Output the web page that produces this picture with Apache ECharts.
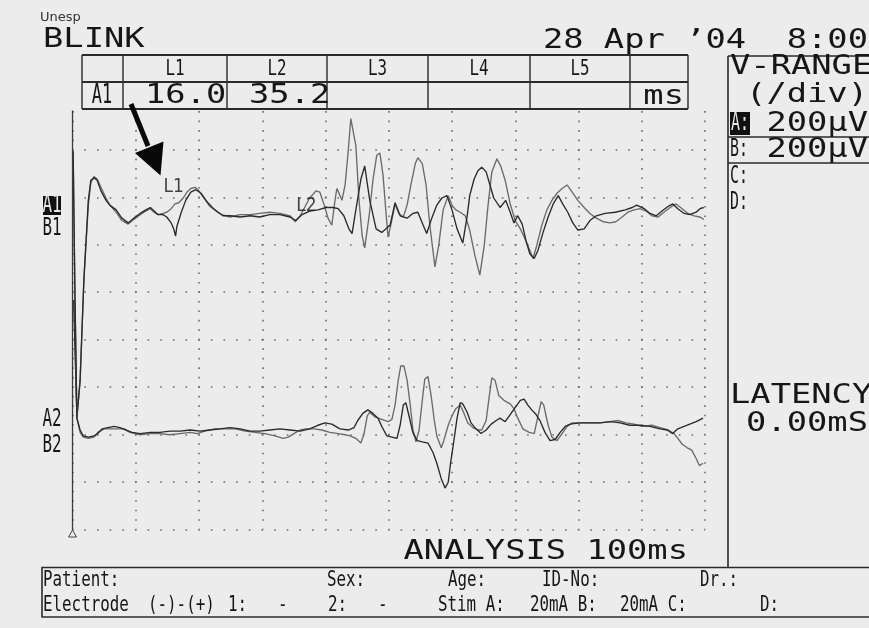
<!DOCTYPE html>
<html>
<head>
<meta charset="utf-8">
<script src="https://cdn.jsdelivr.net/npm/echarts@6/dist/echarts.min.js"></script>
<style>
  html, body { margin: 0; padding: 0; background: #ececec; }
  #chart { width: 869px; height: 628px; }
</style>
</head>
<body>
<div id="chart"></div>
<script>
// Blink reflex recording: 100 ms sweep, 200 µV/div, two stimulus runs (A, B) per side.
// Each trace is a list of [time in ms, amplitude in µV].

const traceA1 = [
  [0.2,-365],[0.7,-860],[1.2,-705],[1.8,-280],[2.5,55],[2.9,140],[3.4,150],[3.9,140],[4.5,95],[5.3,55],
  [5.9,35],[6.9,15],[7.8,-20],[8.8,-40],[9.7,-20],[10.7,0],[11.6,15],[12.3,25],[12.9,10],[13.5,-5],
  [14.3,-5],[14.9,-15],[15.6,-40],[16.0,-65],[16.3,-95],[16.5,-55],[17.2,5],[17.9,55],[18.7,90],[19.5,100],
  [20.3,85],[21.1,55],[22.1,25],[23.0,5],[23.8,-10],[24.9,-10],[26.5,-15],[28.1,-10],[29.6,-15],[31.2,-5],
  [32.8,-5],[34.4,-15],[35.3,-30],[36.3,-5],[37.5,10],[38.8,15],[40.1,25],[41.2,25],[42.0,20],[42.9,-10],
  [43.7,-65],[44.2,-85],[44.8,15],[45.6,145],[46.2,200],[47.0,55],[48.0,-65],[48.9,-80],[50.2,-50],[51.0,45],
  [51.8,-10],[52.9,-20],[53.8,0],[54.6,5],[55.3,-40],[56.0,-85],[56.8,-20],[57.6,35],[58.4,65],[59.2,75],
  [60.0,15],[60.8,-65],[61.7,-125],[62.4,-10],[62.8,75],[63.5,145],[64.1,180],[64.7,195],[65.4,175],[66.0,120],
  [66.6,65],[67.6,25],[68.5,55],[69.2,5],[69.8,-40],[70.4,-10],[71.1,-45],[71.7,-115],[72.3,-170],[73.0,-190],
  [73.6,-155],[74.4,-80],[75.2,-15],[76.0,40],[76.8,75],[77.5,40],[78.3,5],[79.1,-40],[79.9,-70],[80.9,-65],
  [81.8,-30],[82.8,-10],[84.2,0],[85.8,5],[87.4,15],[88.5,25],[89.2,35],[90.4,20],[91.3,0],[92.3,-10],
  [93.2,10],[94.2,30],[94.9,40],[95.7,20],[96.7,0],[97.6,-5],[98.6,5],[99.2,20],[99.8,25]
];

const traceB1 = [
  [0.2,-365],[0.7,-860],[1.2,-705],[1.8,-280],[2.5,35],[2.9,130],[3.4,155],[3.9,145],[4.5,110],[5.3,65],
  [5.9,35],[6.9,5],[7.8,-30],[8.8,-45],[9.7,-25],[10.7,-5],[11.6,10],[12.3,20],[12.9,5],[13.5,-5],
  [14.3,0],[14.9,5],[15.6,20],[16.2,40],[16.8,45],[17.5,65],[18.1,90],[18.7,105],[19.4,110],[20.0,95],
  [20.8,65],[21.7,30],[22.7,10],[23.6,-5],[24.9,-15],[26.5,-5],[28.1,-5],[29.6,0],[31.2,5],[32.8,0],
  [34.4,-10],[35.2,-35],[36.0,-10],[36.8,30],[37.5,65],[38.5,95],[39.1,90],[39.8,35],[40.4,-20],[41.0,-50],
  [41.5,55],[41.8,105],[42.3,75],[42.6,55],[43.1,120],[43.6,265],[44.0,400],[44.3,405],[44.8,285],[45.3,55],
  [45.8,-95],[46.2,-145],[46.9,-10],[47.5,140],[48.1,245],[48.6,255],[49.1,160],[49.6,-10],[49.9,-100],[50.4,-40],
  [51.0,40],[51.6,0],[52.3,-15],[52.9,35],[53.5,120],[54.2,210],[54.6,235],[55.3,210],[55.9,120],[56.5,-50],
  [57.3,-225],[57.9,-135],[58.6,15],[59.4,75],[60.0,35],[60.6,15],[61.3,5],[62.1,-10],[62.8,-70],[63.6,-175],
  [64.4,-260],[65.1,-135],[65.7,35],[66.3,175],[67.1,230],[67.7,200],[68.4,140],[69.2,40],[70.0,-30],[70.8,-65],
  [71.5,-105],[72.3,-155],[72.8,-190],[73.4,-135],[74.2,-50],[75.0,15],[75.8,55],[76.6,85],[77.4,105],[78.2,120],
  [79.0,90],[79.9,55],[80.9,25],[81.8,0],[82.8,-20],[83.9,-35],[85.0,-40],[85.9,-35],[86.9,-15],[87.8,5],
  [88.8,15],[89.7,20],[90.7,10],[91.6,-10],[92.6,-15],[93.5,5],[94.5,25],[95.4,40],[96.4,20],[97.3,0],
  [98.3,-10],[99.2,-15],[99.8,-25]
];

const traceA2 = [
  [0.1,1185],[0.4,555],[0.7,60],[1.2,10],[1.7,-15],[2.5,-20],[3.4,-15],[4.0,-5],[4.7,15],[5.6,20],
  [6.6,25],[7.5,20],[8.5,10],[9.4,0],[10.7,-5],[12.3,0],[13.8,0],[15.4,5],[17.0,5],[18.6,10],
  [20.2,5],[21.7,10],[23.3,15],[24.9,20],[26.5,15],[28.1,5],[29.6,5],[31.2,10],[32.8,15],[34.4,10],
  [36.0,5],[37.5,15],[38.8,30],[39.9,40],[41.0,35],[42.3,15],[43.6,10],[44.5,20],[45.1,50],[45.9,80],
  [46.7,95],[47.5,80],[48.3,60],[48.9,25],[49.7,-15],[50.5,-20],[51.3,-25],[51.8,30],[52.3,115],[52.7,125],
  [53.2,70],[53.8,0],[54.5,-35],[55.3,-40],[56.2,-45],[57.0,-85],[57.6,-130],[58.3,-195],[58.9,-235],[59.4,-210],
  [59.8,-125],[60.3,-35],[60.8,60],[61.3,125],[61.7,120],[62.4,85],[63.0,40],[63.8,15],[64.6,-5],[65.4,10],
  [66.2,35],[67.0,50],[67.6,60],[68.4,45],[69.2,75],[70.0,105],[70.8,135],[71.4,140],[72.0,115],[72.6,95],
  [73.3,75],[73.9,50],[74.7,0],[75.5,-35],[76.3,-30],[77.1,0],[77.9,25],[78.7,35],[80.2,40],[81.8,40],
  [83.4,40],[85.0,45],[86.6,40],[88.1,30],[89.7,30],[91.3,25],[92.9,15],[94.0,10],[94.9,-5],[95.7,15],
  [96.7,25],[97.6,35],[98.6,45],[99.7,60]
];

const traceB2 = [
  [0.1,1185],[0.4,555],[0.7,60],[1.2,0],[1.7,-20],[2.5,-25],[3.4,-20],[4.0,0],[5.0,15],[5.9,15],
  [7.2,15],[8.1,15],[9.1,0],[10.7,-10],[12.3,-5],[13.8,-5],[15.4,-10],[17.0,-5],[18.6,0],[19.7,-5],
  [20.9,5],[22.5,15],[24.1,15],[25.7,15],[27.3,5],[28.9,0],[30.4,-5],[32.0,-15],[33.3,-25],[34.1,-20],
  [35.0,-5],[36.0,10],[36.9,15],[38.2,15],[39.4,10],[40.7,0],[42.0,-5],[43.1,-10],[43.9,-15],[44.8,-25],
  [45.6,-45],[46.1,-5],[46.6,70],[47.0,85],[47.8,65],[48.9,55],[49.9,45],[50.5,55],[51.0,115],[51.5,220],
  [51.9,280],[52.4,280],[52.9,220],[53.4,115],[53.8,15],[54.3,-40],[54.8,10],[55.3,135],[55.7,225],[56.2,235],
  [56.7,155],[57.2,50],[57.6,-15],[58.3,-65],[58.7,-35],[59.4,30],[60.0,70],[60.6,100],[61.3,115],[61.9,80],
  [62.5,40],[63.3,20],[64.1,10],[64.7,10],[65.4,50],[65.9,155],[66.3,230],[66.8,220],[67.4,155],[68.2,135],
  [69.2,120],[69.8,100],[70.4,60],[71.2,15],[72.2,0],[73.0,-5],[73.6,70],[74.1,130],[74.5,115],[75.2,30],
  [75.8,-20],[76.6,-35],[77.4,-5],[78.2,25],[79.0,40],[80.2,40],[81.8,40],[83.4,40],[85.0,45],[86.2,50],
  [87.5,40],[88.8,35],[90.0,25],[91.6,30],[92.9,20],[94.2,10],[95.1,-5],[95.7,-25],[96.4,-50],[97.2,-65],
  [97.9,-75],[98.6,-110],[99.1,-140],[99.7,-130]
];

// Latency cursors (ms) and the result table
const latencyNames = ['L1', 'L2'];
const latencyMs = [16.0, 35.2];
const tableHeaders = ['L1', 'L2', 'L3', 'L4', 'L5'];
const tableValues = ['16.0', '35.2', '', '', ''];
const sweepMs = 100;
const msPerDiv = 10;
const uvPerDiv = 200;

const INK = '#161616';
const BG = '#ececec';
const MONO = '"DejaVu Sans Mono"';

function txt(x, y, s, size, sx, align, fill, family) {
  return {
    type: 'text', x: x, y: y, scaleX: sx, z: 120,
    style: {
      text: s, font: size + 'px ' + (family || MONO), fill: fill || INK,
      textAlign: align || 'left', textVerticalAlign: 'middle'
    }
  };
}
function wide(x, y, s, align) { return txt(x, y, s, 27, 1.25, align); }
function narrow(x, y, s, align, fill) { return txt(x, y, s, 22, 0.72, align, fill); }
function hline(x1, x2, y, w) {
  return { type: 'line', z: 115, shape: { x1: x1, y1: y, x2: x2, y2: y }, style: { stroke: '#2a2a2a', lineWidth: w || 1.6 } };
}
function vline(x, y1, y2, w) {
  return { type: 'line', z: 115, shape: { x1: x, y1: y1, x2: x, y2: y2 }, style: { stroke: '#2a2a2a', lineWidth: w || 1.6 } };
}

const graphics = [];
// strip above the traces, under the result table
graphics.push({ type: 'rect', z: 105, shape: { x: 62, y: 94, width: 664, height: 16.5 }, style: { fill: BG } });

// result table
const colEdges = [82, 123, 227, 327, 428, 530, 630, 688];
[55, 82, 109].forEach(y => graphics.push(hline(82, 688, y, 1.8)));
colEdges.forEach(x => graphics.push(vline(x, 55, 109, 1.4)));
tableHeaders.forEach((h, i) => {
  graphics.push(txt((colEdges[i + 1] + colEdges[i + 2]) / 2, 69, h, 22, 0.72, 'center'));
});
graphics.push(txt(102, 96, 'A1', 26, 0.65, 'center'));
tableValues.forEach((v, i) => {
  if (v) graphics.push(wide(colEdges[i + 1] + 22, 96, v));
});
graphics.push(wide(684, 97, 'ms', 'right'));

// header line
graphics.push(txt(40, 18, 'Unesp', 13, 1.0, 'left', '#333', '"DejaVu Sans"'));
graphics.push(wide(43, 40, 'BLINK'));
graphics.push(wide(868, 41, '28 Apr \u201904  8:00', 'right'));

// right-hand settings panel
graphics.push(vline(728, 56, 567, 1.6));
graphics.push(hline(728, 869, 56, 1.6));
graphics.push(hline(728, 869, 137, 1.4));
graphics.push(hline(728, 869, 163, 1.4));
graphics.push(wide(730, 67, 'V-RANGE'));
graphics.push(wide(868, 95, '(/div)', 'right'));
graphics.push({ type: 'rect', z: 118, shape: { x: 730, y: 112, width: 20, height: 23 }, style: { fill: '#111' } });
graphics.push(txt(740, 124, 'A:', 24, 0.62, 'center', '#e8e8e8'));
graphics.push(wide(868, 124, uvPerDiv + 'µV', 'right'));
graphics.push(txt(730, 150, 'B:', 24, 0.62));
graphics.push(wide(868, 150, uvPerDiv + 'µV', 'right'));
graphics.push(txt(730, 177, 'C:', 24, 0.62));
graphics.push(txt(730, 203, 'D:', 24, 0.62));
graphics.push(wide(730, 396, 'LATENCY'));
graphics.push(wide(868, 424, '0.00mS', 'right'));

// sweep length
graphics.push(wide(688, 552, 'ANALYSIS ' + sweepMs + 'ms', 'right'));

// channel labels
graphics.push({ type: 'rect', z: 118, shape: { x: 43, y: 196, width: 18, height: 19 }, style: { fill: '#111' } });
graphics.push(txt(52, 205.5, 'A1', 24, 0.66, 'center', '#e8e8e8'));
graphics.push(txt(52, 229, 'B1', 24, 0.66, 'center'));
graphics.push(txt(52, 420, 'A2', 24, 0.66, 'center'));
graphics.push(txt(52, 446, 'B2', 24, 0.66, 'center'));

// stimulus marker
graphics.push({ type: 'polygon', z: 118, shape: { points: [[72.5, 530], [68.5, 537], [76.5, 537]] }, style: { fill: 'none', stroke: '#444', lineWidth: 1 } });

// arrow pointing at the L1 onset
graphics.push({ type: 'line', z: 125, shape: { x1: 131, y1: 104, x2: 148, y2: 146 }, style: { stroke: '#080808', lineWidth: 5 } });
graphics.push({ type: 'polygon', z: 125, shape: { points: [[135, 153], [163.5, 141.5], [160.5, 175.5]] }, style: { fill: '#080808' } });

// patient / stimulation box
graphics.push({ type: 'rect', z: 115, shape: { x: 42, y: 567.5, width: 840, height: 49.5 }, style: { fill: 'none', stroke: '#2a2a2a', lineWidth: 1.6 } });
[['Patient:', 43], ['Sex:', 327], ['Age:', 448], ['ID-No:', 542], ['Dr.:', 700]].forEach(p => graphics.push(narrow(p[1], 580, p[0])));
[['Electrode', 43], ['(-)-(+)', 148], ['1:', 228], ['-', 278], ['2:', 328], ['-', 378],
 ['Stim A:', 438], ['20mA B:', 530], ['20mA C:', 620], ['D:', 760]].forEach(p => graphics.push(narrow(p[1], 605, p[0])));

function trace(data, yIdx, color) {
  return {
    type: 'line', xAxisIndex: 0, yAxisIndex: yIdx, data: data,
    showSymbol: false, symbol: 'none', smooth: false, silent: true,
    lineStyle: { color: color, width: 1.35 }, z: 3
  };
}

const dotColor = '#6c6c6c';
const option = {
  backgroundColor: BG,
  animation: false,
  grid: { left: 72.5, right: 164, top: 102.4, bottom: 98.6 },
  xAxis: {
    type: 'value', min: 0, max: sweepMs, interval: msPerDiv,
    axisLine: { show: false }, axisTick: { show: false }, axisLabel: { show: false },
    splitLine: { show: true, lineStyle: { type: [1.6, 7.89], dashOffset: 0.8, color: dotColor, width: 1.6 } }
  },
  yAxis: [
    { type: 'value', min: -1332, max: 468, show: false },
    { type: 'value', min: -409, max: 1391, show: false },
    {
      type: 'value', min: 0, max: 9, interval: 1, position: 'left',
      axisLine: { show: true, onZero: false, lineStyle: { color: '#3c3c3c', width: 1.3 } },
      axisTick: { show: false }, axisLabel: { show: false },
      splitLine: { show: true, lineStyle: { type: [1.6, 11.05], dashOffset: 0.8, color: dotColor, width: 1.6 } }
    }
  ],
  series: [
    trace(traceB1, 0, '#6a6a6a'),
    trace(traceA1, 0, '#2a2a2a'),
    trace(traceB2, 1, '#6a6a6a'),
    trace(traceA2, 1, '#2a2a2a'),
    {
      type: 'scatter', xAxisIndex: 0, yAxisIndex: 0, symbolSize: 0, silent: true, z: 6,
      data: [
        { name: latencyNames[0], value: [latencyMs[0], 112], label: { position: 'inside' } },
        { name: latencyNames[1], value: [latencyMs[1], 30], label: { position: 'right', distance: 1 } }
      ],
      label: {
        show: true, formatter: p => p.name, color: INK,
        fontFamily: 'DejaVu Sans Condensed', fontSize: 19
      }
    }
  ],
  graphic: graphics
};

const chart = echarts.init(document.getElementById('chart'), null, { renderer: 'canvas' });
chart.setOption(option);
</script>
</body>
</html>
